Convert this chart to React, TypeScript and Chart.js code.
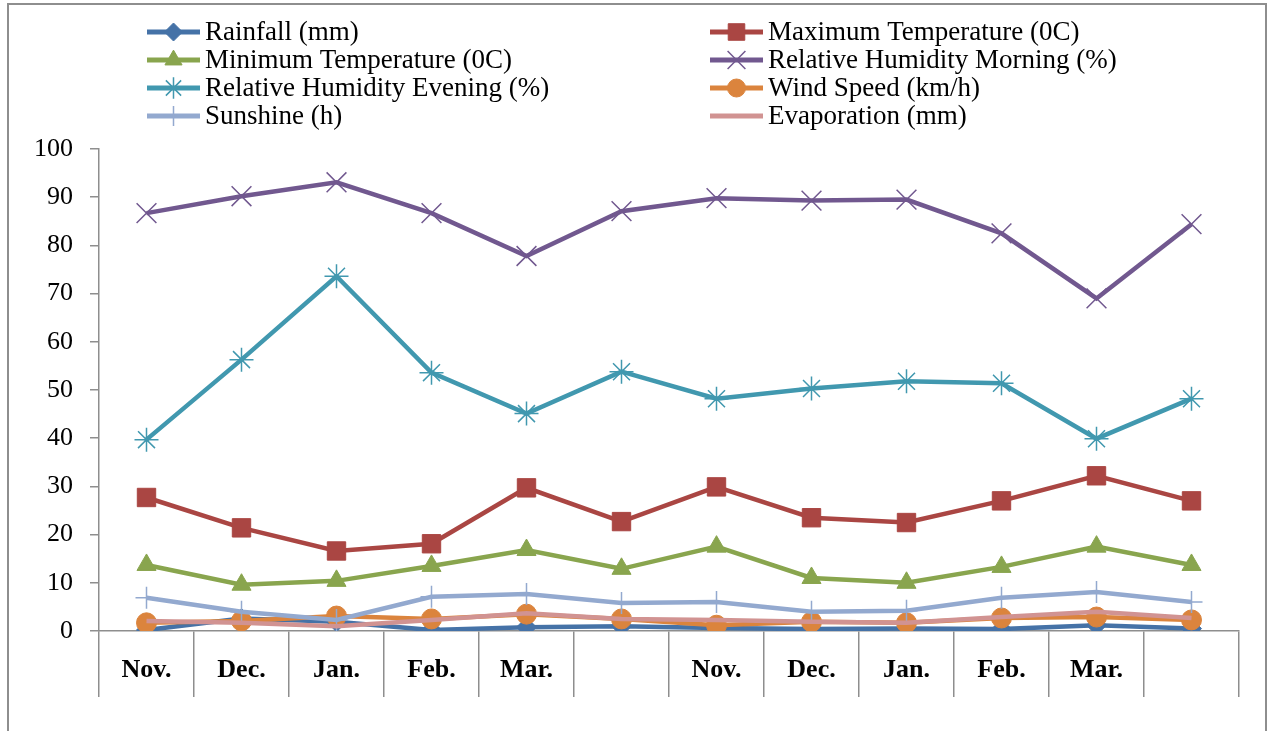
import React, { useEffect, useRef } from 'react';
import { Chart, registerables } from 'chart.js';
import { drawPoint } from 'chart.js/helpers';

Chart.register(...registerables);

const categories = ['Nov.', 'Dec.', 'Jan.', 'Feb.', 'Mar.', '', 'Nov.', 'Dec.', 'Jan.', 'Feb.', 'Mar.', ''];
const yMin = 0;
const yMax = 100;
const yStep = 10;

const rainfall = [0.2, 2.6, 1.9, 0.2, 0.8, 1.0, 0.6, 0.4, 0.5, 0.4, 1.2, 0.5];
const maxTemp = [27.7, 21.4, 16.6, 18.1, 29.7, 22.7, 29.9, 23.5, 22.5, 27.0, 32.2, 27.0];
const minTemp = [13.7, 9.6, 10.4, 13.5, 16.8, 12.9, 17.5, 11.0, 10.0, 13.3, 17.5, 13.7];
const rhMorning = [86.7, 90.2, 93.1, 86.7, 77.8, 87.1, 89.8, 89.3, 89.5, 82.5, 69.0, 84.4];
const rhEvening = [39.7, 56.3, 73.6, 53.6, 45.1, 53.8, 48.2, 50.3, 51.8, 51.4, 39.9, 48.2];
const windSpeed = [1.7, 2.1, 3.1, 2.5, 3.5, 2.5, 1.2, 1.9, 1.7, 2.7, 2.9, 2.3];
const sunshine = [6.9, 4.0, 2.3, 7.1, 7.7, 5.8, 6.0, 4.0, 4.2, 6.9, 8.1, 6.0];
const evaporation = [2.1, 1.7, 1.0, 2.3, 3.7, 2.5, 2.3, 1.9, 1.7, 2.9, 4.0, 2.7];

const seriesNames = [
  'Rainfall (mm)',
  'Maximum Temperature (0C)',
  'Minimum Temperature (0C)',
  'Relative Humidity Morning (%)',
  'Relative Humidity Evening (%)',
  'Wind Speed (km/h)',
  'Sunshine (h)',
  'Evaporation (mm)',
];
const seriesValues = [rainfall, maxTemp, minTemp, rhMorning, rhEvening, windSpeed, sunshine, evaporation];
const seriesColors = ['#4572A7', '#AA4643', '#89A54E', '#71588F', '#4198AF', '#DB843D', '#93A9CF', '#D19392'];
const seriesPointStyles: any[] = ['rectRot', 'rect', 'triangle', 'crossRot', 'star', 'circle', 'cross', 'circle'];
const seriesPointRadius = [10, 13, 11, 14, 12, 10, 11, 0];
const seriesPointBorder = [1, 1, 1, 1.5, 1.5, 1, 1.5, 0];

const FONT = "'Liberation Serif', 'Times New Roman', serif";

const framePlugin = {
  id: 'frame',
  beforeDraw(chart: any) {
    const ctx = chart.ctx;
    ctx.save();
    ctx.fillStyle = '#ffffff';
    ctx.fillRect(0, 0, chart.width, chart.height);
    ctx.strokeStyle = '#8e8e8e';
    ctx.lineWidth = 2;
    ctx.strokeRect(8, 4, 1258, 760);
    ctx.restore();
  },
};

const legendPlugin = {
  id: 'customLegend',
  afterDraw(chart: any) {
    const ctx = chart.ctx;
    const colX = [147, 710];
    const rowY0 = 32;
    const rowGap = 28;
    const lineLen = 53;
    ctx.save();
    seriesNames.forEach((name, i) => {
      const col = i % 2;
      const row = Math.floor(i / 2);
      const x0 = colX[col];
      const y = rowY0 + row * rowGap;
      ctx.strokeStyle = seriesColors[i];
      ctx.lineWidth = 5;
      ctx.lineCap = 'butt';
      ctx.beginPath();
      ctx.moveTo(x0, y);
      ctx.lineTo(x0 + lineLen, y);
      ctx.stroke();
      if (seriesPointRadius[i] > 0) {
        ctx.fillStyle = seriesColors[i];
        ctx.strokeStyle = seriesColors[i];
        ctx.lineWidth = seriesPointBorder[i];
        drawPoint(
          ctx,
          { pointStyle: seriesPointStyles[i], radius: seriesPointRadius[i] * 0.9, rotation: 0, borderWidth: seriesPointBorder[i] },
          x0 + lineLen / 2,
          y
        );
      }
      ctx.fillStyle = '#000000';
      ctx.font = `27px ${FONT}`;
      ctx.textAlign = 'left';
      ctx.textBaseline = 'middle';
      ctx.fillText(name, x0 + lineLen + 5, y + 1);
    });
    ctx.restore();
  },
};

export default function App() {
  const canvasRef = useRef<HTMLCanvasElement | null>(null);

  useEffect(() => {
    document.body.style.margin = '0';
    const canvas = canvasRef.current;
    if (!canvas) return;

    const datasets = seriesNames.map((name, i) => ({
      label: name,
      data: seriesValues[i],
      borderColor: seriesColors[i],
      backgroundColor: seriesColors[i],
      borderWidth: 4.5,
      pointStyle: seriesPointStyles[i],
      pointRadius: seriesPointRadius[i],
      pointHoverRadius: seriesPointRadius[i],
      pointBorderWidth: seriesPointBorder[i],
      pointBorderColor: seriesColors[i],
      pointBackgroundColor: seriesColors[i],
      tension: 0,
      fill: false,
      order: seriesNames.length - i,
    }));

    const chart = new Chart(canvas, {
      type: 'line',
      data: { labels: categories, datasets },
      options: {
        animation: false,
        responsive: true,
        maintainAspectRatio: false,
        layout: { padding: { left: 9, right: 41, top: 149, bottom: 0 } },
        plugins: {
          legend: { display: false },
          tooltip: { enabled: false },
        },
        scales: {
          x: {
            type: 'category',
            offset: true,
            grid: {
              display: true,
              offset: true,
              drawOnChartArea: false,
              drawTicks: true,
              tickLength: 66,
              color: '#8e8e8e',
              lineWidth: 1.5,
            },
            border: { display: true, color: '#8e8e8e', width: 1.5 },
            ticks: {
              color: '#000000',
              font: { family: FONT, size: 26, weight: 'bold' },
              padding: -42,
              maxRotation: 0,
              autoSkip: false,
            },
            afterFit(scale: any) {
              scale.height = 100;
            },
          },
          y: {
            min: yMin,
            max: yMax,
            ticks: {
              stepSize: yStep,
              color: '#000000',
              font: { family: FONT, size: 26 },
              padding: 17,
            },
            grid: {
              display: true,
              drawOnChartArea: false,
              drawTicks: true,
              tickLength: 9,
              color: '#8e8e8e',
              lineWidth: 1.5,
            },
            border: { display: true, color: '#8e8e8e', width: 1.5 },
            afterFit(scale: any) {
              scale.width = 90;
            },
          },
        },
      },
      plugins: [framePlugin, legendPlugin],
    });

    return () => {
      chart.destroy();
    };
  }, []);

  return (
    <div style={{ width: '1280px', height: '731px', position: 'relative' }}>
      <canvas ref={canvasRef} />
    </div>
  );
}
